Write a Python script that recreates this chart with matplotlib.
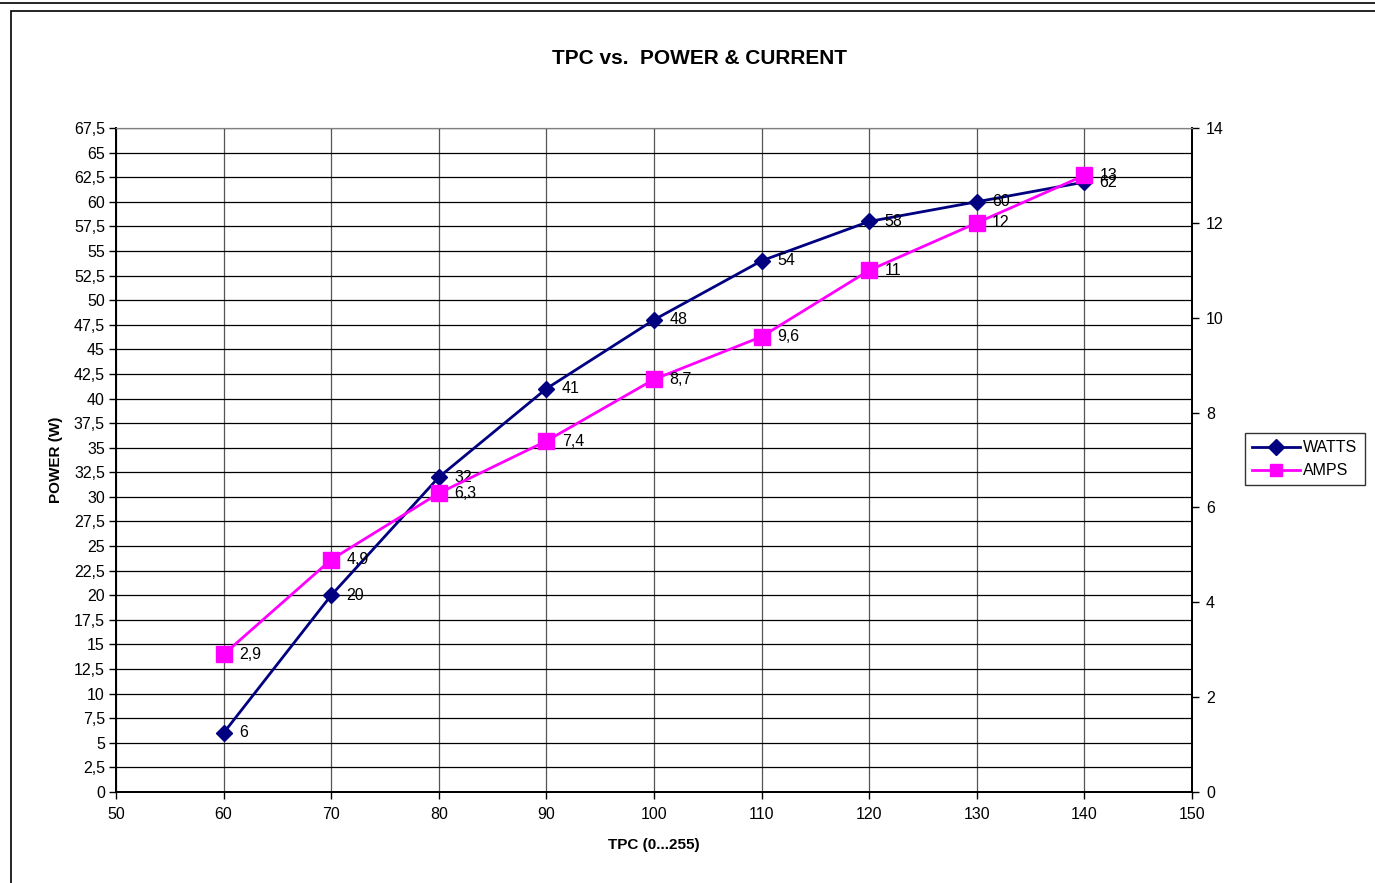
"""TPC vs. power & current chart, Excel-style, with a secondary axis for amps."""

import matplotlib
matplotlib.use("Agg")
import matplotlib.pyplot as plt
from matplotlib.lines import Line2D
from matplotlib.patches import Rectangle
from matplotlib.ticker import FuncFormatter, MultipleLocator

plt.rcParams["font.family"] = ["Liberation Sans", "DejaVu Sans"]

TPC = [60, 70, 80, 90, 100, 110, 120, 130, 140]
WATTS = [6, 20, 32, 41, 48, 54, 58, 60, 62]
AMPS = [2.9, 4.9, 6.3, 7.4, 8.7, 9.6, 11, 12, 13]

NAVY = "#000080"
MAGENTA = "#FF00FF"


def comma(v, _pos=None):
    s = f"{v:g}"
    return s.replace(".", ",")


fig = plt.figure(figsize=(13.75, 8.83), dpi=100)

# spreadsheet frame around the chart
fig.add_artist(Line2D([0, 1], [1 - 3 / 883, 1 - 3 / 883], color="black", lw=1.2))
fig.add_artist(Rectangle((10.5 / 1375, -0.01), 1.0, 1 - 11 / 883 + 0.01,
                         fill=False, edgecolor="black", lw=1.2,
                         transform=fig.transFigure))

ax = fig.add_axes([116 / 1375, 1 - 792 / 883, 1076 / 1375, 664 / 883])
ax2 = ax.twinx()

ax.set_xlim(50, 150)
ax.set_ylim(0, 67.5)
ax2.set_ylim(0, 14)

ax.xaxis.set_major_locator(MultipleLocator(10))
ax.yaxis.set_major_locator(MultipleLocator(2.5))
ax.yaxis.set_major_formatter(FuncFormatter(comma))
ax2.yaxis.set_major_locator(MultipleLocator(2))

ax.grid(True, axis="y", color="black", lw=0.9)
ax.grid(True, axis="x", color="#555555", lw=0.9)
ax.set_axisbelow(True)

for side in ["left", "bottom", "right"]:
    ax.spines[side].set_linewidth(1.3)
    ax2.spines[side].set_linewidth(1.3)
ax.spines["top"].set_color("#808080")
ax2.spines["top"].set_color("#808080")

ax.tick_params(labelsize=11.5, length=5, width=1, pad=3)
ax.tick_params(axis="x", pad=6)
ax2.tick_params(labelsize=11.5, length=5, width=1, pad=5)

ax.plot(TPC, WATTS, color=NAVY, lw=2, marker="D", markersize=8,
        markerfacecolor=NAVY, markeredgecolor=NAVY, zorder=3)
ax2.plot(TPC, AMPS, color=MAGENTA, lw=2, marker="s", markersize=11,
         markerfacecolor=MAGENTA, markeredgecolor=MAGENTA, zorder=3)

for x, w in zip(TPC, WATTS):
    ax.annotate(comma(w), (x, w), xytext=(11, 0), textcoords="offset points",
                va="center", ha="left", fontsize=11.5)
for x, a in zip(TPC, AMPS):
    ax2.annotate(comma(a), (x, a), xytext=(11, 0), textcoords="offset points",
                 va="center", ha="left", fontsize=11.5)

ax.set_xlabel("TPC (0...255)", fontsize=11, fontweight="bold", labelpad=11)
ax.set_ylabel("POWER (W)", fontsize=11, fontweight="bold", labelpad=8)
fig.text(699 / 1375, 1 - 58 / 883, "TPC vs.  POWER & CURRENT", ha="center",
         va="center", fontsize=15, fontweight="bold")

handles = [
    Line2D([], [], color=NAVY, lw=2, marker="D", markersize=8),
    Line2D([], [], color=MAGENTA, lw=2, marker="s", markersize=9),
]
leg = fig.legend(handles, ["WATTS", "AMPS"], loc="upper left",
                 bbox_to_anchor=(1245 / 1375, 1 - 433 / 883), fontsize=11.5,
                 frameon=True, fancybox=False, edgecolor="black",
                 handlelength=3.0, handletextpad=0.2, borderpad=0.45,
                 labelspacing=0.5, borderaxespad=0)
leg.get_frame().set_linewidth(1)

fig.savefig("out.png", dpi=100)
